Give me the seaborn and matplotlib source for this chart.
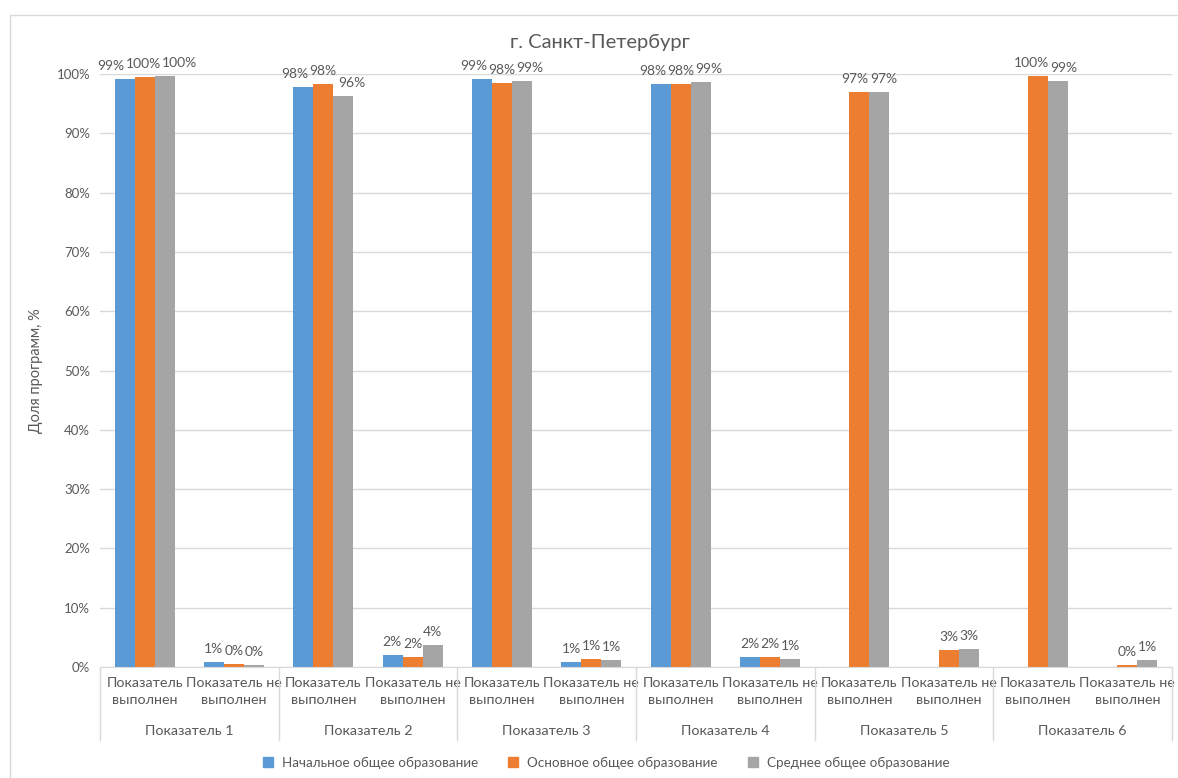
import numpy as np
import pandas as pd
import matplotlib
matplotlib.use("Agg")
import matplotlib.pyplot as plt
from matplotlib.lines import Line2D
import seaborn as sns

groups = ["Показатель 1", "Показатель 2", "Показатель 3",
          "Показатель 4", "Показатель 5", "Показатель 6"]
subcats = ["Показатель\nвыполнен", "Показатель не\nвыполнен"]
levels = ["Начальное общее образование", "Основное общее образование",
          "Среднее общее образование"]

nachalnoe = [99.2, 0.8, 97.8, 2.0, 99.2, 0.8, 98.3, 1.7, np.nan, np.nan, np.nan, np.nan]
osnovnoe = [99.5, 0.5, 98.3, 1.7, 98.5, 1.4, 98.3, 1.7, 97.0, 2.8, 99.6, 0.4]
srednee = [99.7, 0.3, 96.3, 3.7, 98.8, 1.2, 98.7, 1.3, 97.0, 3.0, 98.8, 1.2]

colors = ["#5B9BD5", "#ED7D31", "#A5A5A5"]
text_color = "#595959"

keys = [f"{g}|{s}" for g in groups for s in subcats]
rows = []
for level, vals in zip(levels, [nachalnoe, osnovnoe, srednee]):
    for k, v in zip(keys, vals):
        rows.append({"key": k, "level": level, "value": v})
df = pd.DataFrame(rows)

sns.set_style("white")
plt.rcParams["font.family"] = ["Lato", "DejaVu Sans"]

fig = plt.figure(figsize=(11.78, 7.78), dpi=100)
ax = fig.add_axes([100 / 1178, 1 - 667 / 778, 1072 / 1178, 593 / 778])

sns.barplot(data=df, x="key", y="value", hue="level", order=keys,
            hue_order=levels, palette=colors, width=0.67, gap=0,
            saturation=1, edgecolor="none", errorbar=None, ax=ax)

anns = {}
for cont in ax.containers:
    labels = ["" if np.isnan(v) else f"{v:.0f}%" for v in cont.datavalues]
    texts = ax.bar_label(cont, labels=labels, padding=5, fontsize=10, color=text_color)
    for t in texts:
        if t.get_text():
            anns.setdefault(int(round(t.xy[0])), []).append(t)

ax.set_ylim(0, 100)
ax.set_xlim(-0.5, len(keys) - 0.5)
ax.set_yticks(range(0, 101, 10))
ax.set_yticklabels([f"{t}%" for t in range(0, 101, 10)], fontsize=9.5, color=text_color)
ax.yaxis.grid(True, color="#D9D9D9", linewidth=1)
ax.set_axisbelow(True)
ax.set_xticks(range(len(keys)))
ax.set_xticklabels(subcats * len(groups), fontsize=10.3, color=text_color,
                   linespacing=1.55)
ax.tick_params(axis="x", length=0, pad=7)
ax.tick_params(axis="y", length=0, pad=7)
ax.set_xlabel("")
ax.set_ylabel("Доля программ, %", fontsize=10.5, color=text_color, labelpad=10)
for side in ["top", "right", "left"]:
    ax.spines[side].set_visible(False)
ax.spines["bottom"].set_color("#D9D9D9")

trans = ax.get_xaxis_transform()
for i in range(len(groups) + 1):
    xpos = i * 2 - 0.5
    ax.plot([xpos, xpos], [0, -0.123], color="#D9D9D9", linewidth=1,
            transform=trans, clip_on=False)
for i, g in enumerate(groups):
    ax.text(i * 2 + 0.5, -0.108, g, transform=trans, ha="center", va="center",
            fontsize=10.3, color=text_color)

fig.text(600 / 1178, 1 - 42 / 778, "г. Санкт-Петербург", ha="center",
         va="center", fontsize=14.5, color=text_color)

handles = [Line2D([], [], marker="s", linestyle="none", markersize=7,
                  color=c) for c in colors]
ax.get_legend().remove()
fig.legend(handles, levels, loc="center", bbox_to_anchor=(602 / 1178, 1 - 763 / 778),
           ncol=3, frameon=False, fontsize=9.7, labelcolor=text_color,
           handletextpad=0.05, columnspacing=1.6)

fig.add_artist(Line2D([10 / 1178, 10 / 1178], [0, 1 - 15 / 778], color="#D9D9D9",
                      linewidth=1, transform=fig.transFigure))
fig.add_artist(Line2D([10 / 1178, 1], [1 - 15 / 778, 1 - 15 / 778], color="#D9D9D9",
                      linewidth=1, transform=fig.transFigure))

# spread data labels sideways so they do not overlap (like Excel does)
fig.canvas.draw()
renderer = fig.canvas.get_renderer()
px2pt = 72 / fig.dpi
for idx, texts in anns.items():
    texts = sorted(texts, key=lambda t: t.xy[0])
    widths = [t.get_window_extent(renderer).width for t in texts]
    base = [ax.transData.transform((t.xy[0], 0))[0] for t in texts]
    pos = list(base)
    for _ in range(100):
        moved = False
        for j in range(len(pos) - 1):
            need = (widths[j] + widths[j + 1]) / 2 + 1
            gap = pos[j + 1] - pos[j]
            if gap < need:
                d = (need - gap) / 2
                pos[j] -= d
                pos[j + 1] += d
                moved = True
        if not moved:
            break
    for t, b, p in zip(texts, base, pos):
        ox, oy = t.xyann
        t.xyann = (ox + (p - b) * px2pt, oy)

fig.savefig("out.png", dpi=100, facecolor="white")
